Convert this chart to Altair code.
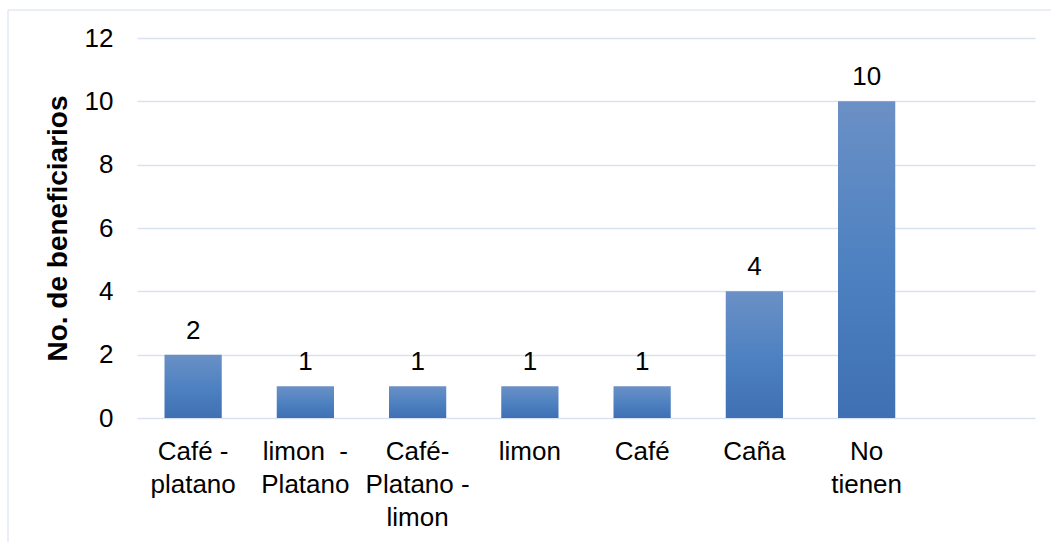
import altair as alt
import pandas as pd

# Crops grown by the beneficiaries and how many grow each one
cultivos = [
    "Café -\nplatano",
    "limon\u00a0\u00a0-\nPlatano",
    "Café-\nPlatano -\nlimon",
    "limon",
    "Café",
    "Caña",
    "No\ntienen",
]
beneficiarios = [2, 1, 1, 1, 1, 4, 10]
# the category axis keeps one empty slot after the last crop
ranuras = cultivos + [" "]
y_ticks = [0, 2, 4, 6, 8, 10, 12]

df = pd.DataFrame({"cultivo": cultivos, "n": beneficiarios})

FONT = "Liberation Sans"
GRID = "#d9e2f1"
FRAME = "#e2e9f4"
TXT = 26

x_enc = alt.X(
    "cultivo:N",
    sort=ranuras,
    scale=alt.Scale(domain=ranuras, paddingInner=0.49, paddingOuter=0.245),
    axis=alt.Axis(
        title=None,
        domain=False,
        ticks=False,
        labelAngle=0,
        labelFontSize=TXT,
        labelColor="#000000",
        labelPadding=20,
        labelLineHeight=33,
        labelBaseline="top",
        labelExpr="split(datum.label, '\\n')",
    ),
)
y_enc = alt.Y(
    "n:Q",
    scale=alt.Scale(domain=[0, 12], nice=False),
    axis=alt.Axis(
        title="No. de beneficiarios",
        titleFontSize=28,
        titleFontWeight="bold",
        titleColor="#000000",
        titleX=-79,
        titleBaseline="middle",
        values=y_ticks,
        domain=False,
        ticks=False,
        labelFontSize=TXT,
        labelColor="#000000",
        labelPadding=24,
        grid=True,
        gridColor=GRID,
        gridWidth=1.6,
    ),
)

barras = alt.Chart(df).mark_bar(
    color=alt.Gradient(
        gradient="linear",
        x1=0, x2=0, y1=0, y2=1,
        stops=[
            alt.GradientStop(color="#6b90c6", offset=0),
            alt.GradientStop(color="#4f82c1", offset=0.5),
            alt.GradientStop(color="#3e70b3", offset=1),
        ],
    )
).encode(x=x_enc, y=y_enc)

etiquetas = alt.Chart(df).mark_text(
    fontSize=TXT, color="#000000", baseline="alphabetic", dy=-16
).encode(x=alt.X("cultivo:N", sort=ranuras), y="n:Q", text="n:Q")

marco = alt.Data(values=[{}])
borde_sup = alt.Chart(marco).mark_rule(color=FRAME, strokeWidth=1.5).encode(
    x=alt.value(-129), x2=alt.value(920), y=alt.value(-28)
)
borde_izq = alt.Chart(marco).mark_rule(color=FRAME, strokeWidth=1.5).encode(
    x=alt.value(-129), y=alt.value(-28), y2=alt.value(510)
)

chart = (
    alt.layer(borde_sup, borde_izq, barras, etiquetas)
    .properties(
        width=898,
        height=380,
        autosize=alt.AutoSizeParams(type="none"),
        padding={"left": 137, "top": 38, "right": 16, "bottom": 124},
    )
    .configure(font=FONT, background="#ffffff")
    .configure_view(stroke=None)
)

chart.save("out.html", embed_options={"renderer": "svg", "actions": False})
